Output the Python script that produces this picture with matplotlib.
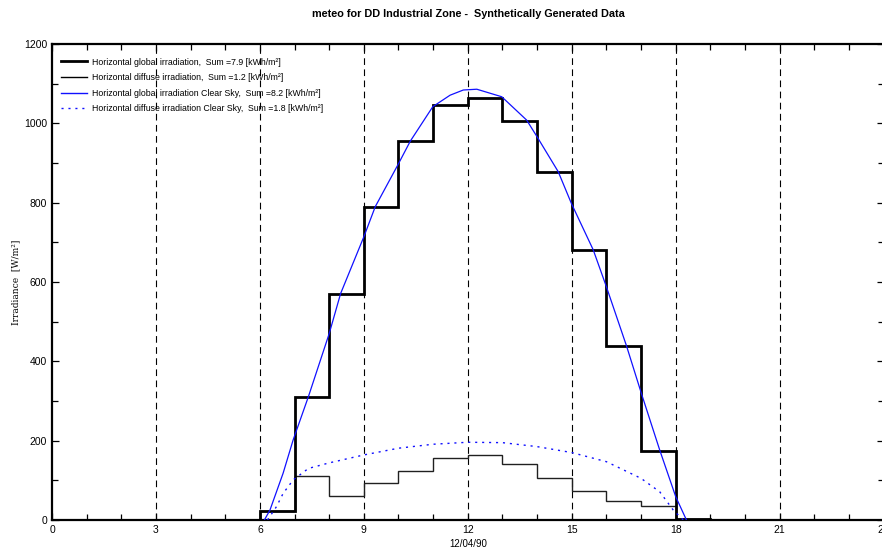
import matplotlib
matplotlib.use("Agg")
import matplotlib.pyplot as plt
from matplotlib.ticker import MultipleLocator
from matplotlib.lines import Line2D

# ---- data ----
hour_edges = [6, 7, 8, 9, 10, 11, 12, 13, 14, 15, 16, 17, 18, 19]
global_irr = [22, 310, 570, 790, 955, 1045, 1065, 1005, 878, 680, 438, 175, 3]
diffuse_irr = [22, 111, 61, 94, 124, 157, 164, 140, 106, 74, 49, 36, 2]

clear_global_h = [6.13, 6.29, 6.67, 6.96, 7.40, 8.0, 8.33, 9.0, 9.33, 9.98, 10.34,
                  10.99, 11.49, 11.87, 12.26, 12.98, 13.70, 14.0, 14.61, 14.99,
                  15.62, 16.0, 16.58, 17.01, 17.54, 18.0, 18.31]
clear_global_v = [0, 25, 118, 202, 311, 470, 571, 714, 790, 895, 955,
                  1042, 1071, 1084, 1086, 1067, 1008, 966, 878, 798,
                  681, 588, 439, 319, 176, 59, 0]

clear_diff_h = [6.22, 6.48, 6.67, 6.96, 7.40, 8.0, 9.0, 10.0, 11.0, 12.0, 13.0,
                14.0, 15.0, 16.0, 17.0, 17.54, 17.93, 18.22]
clear_diff_v = [0, 34, 67, 101, 130, 144, 164, 181, 191, 196, 195,
                185, 170, 147, 105, 71, 25, 0]

xticks = [0, 3, 6, 9, 12, 15, 18, 21, 24]
yticks = [0, 200, 400, 600, 800, 1000, 1200]

title = "meteo for DD Industrial Zone -  Synthetically Generated Data"
labels = ["Horizontal global irradiation,  Sum =7.9 [kWh/m\u00b2]",
          "Horizontal diffuse irradiation,  Sum =1.2 [kWh/m\u00b2]",
          "Horizontal global irradiation Clear Sky,  Sum =8.2 [kWh/m\u00b2]",
          "Horizontal diffuse irradiation Clear Sky,  Sum =1.8 [kWh/m\u00b2]"]

fam = ['Liberation Sans Narrow', 'Liberation Sans', 'DejaVu Sans']
plt.rcParams['font.family'] = fam

fig = plt.figure(figsize=(8.82, 5.51), dpi=100)
ax = fig.add_axes([52 / 882, 1 - 520 / 551, 831.6 / 882, 476 / 551])

full_edges = [0] + hour_edges + [24]
g_full = [0] + global_irr + [0]
d_full = [0] + diffuse_irr + [0]

for xv in xticks[1:-1]:
    ax.axvline(xv, color='black', lw=0.8, ls=(0, (6, 4)), zorder=1)

ax.stairs(g_full, full_edges, color='black', lw=2.0, baseline=None, zorder=4)
ax.stairs(d_full, full_edges, color='#202020', lw=1.0, baseline=None, zorder=3)
ax.plot(clear_global_h, clear_global_v, color='#1010ff', lw=0.9, zorder=5)
ax.plot(clear_diff_h, clear_diff_v, color='#1010ff', lw=1.0,
        ls=(0, (1.5, 3.5)), zorder=5)

ax.set_xlim(0, 24)
ax.set_ylim(0, 1200)
ax.set_xticks(xticks)
ax.set_yticks(yticks)
ax.xaxis.set_minor_locator(MultipleLocator(1))
ax.yaxis.set_minor_locator(MultipleLocator(100))
ax.tick_params(which='both', direction='in', top=True, right=True,
               labelsize=7.5, width=0.9, colors='black')
ax.tick_params(which='major', length=5)
ax.tick_params(which='minor', length=4)
for s in ax.spines.values():
    s.set_linewidth(1.6)

ax.set_xlabel("12/04/90", fontsize=7, labelpad=3)
ax.set_ylabel("Irradiance  [W/m\u00b2]", fontsize=6.5, family='DejaVu Serif')
ax.yaxis.set_label_coords(-0.0385, 0.5)

fig.text(468 / 882, 1 - 14 / 551, title, ha='center', va='center', fontsize=7.8,
         fontweight='bold')

handles = [Line2D([], [], color='black', lw=2.0),
           Line2D([], [], color='black', lw=1.0),
           Line2D([], [], color='#1010ff', lw=1.0),
           Line2D([], [], color='#1010ff', lw=1.0, ls=(0, (1.5, 3.5)))]
ax.legend(handles, labels, loc='upper left', frameon=False, fontsize=6.3,
          handlelength=3.0, handletextpad=0.6, labelspacing=0.75,
          bbox_to_anchor=(0.0, 0.99), borderaxespad=0.6)

fig.savefig("out.png", dpi=100)
